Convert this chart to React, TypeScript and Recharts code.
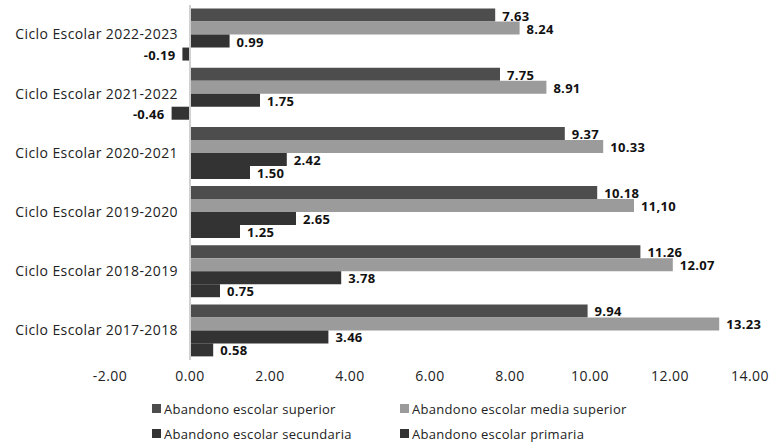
import React from 'react';
import { BarChart, Bar, XAxis, YAxis, Legend, ReferenceLine, LabelList } from 'recharts';

const cycles = [
  'Ciclo Escolar 2022-2023',
  'Ciclo Escolar 2021-2022',
  'Ciclo Escolar 2020-2021',
  'Ciclo Escolar 2019-2020',
  'Ciclo Escolar 2018-2019',
  'Ciclo Escolar 2017-2018',
];
const superior = [7.63, 7.75, 9.37, 10.18, 11.26, 9.94];
const mediaSuperior = [8.24, 8.91, 10.33, 11.1, 12.07, 13.23];
const secundaria = [0.99, 1.75, 2.42, 2.65, 3.78, 3.46];
const primaria = [-0.19, -0.46, 1.5, 1.25, 0.75, 0.58];
// the source prints this one value with a comma
const mediaSuperiorText = ['8.24', '8.91', '10.33', '11,10', '12.07', '13.23'];
const xTicks = [-2, 0, 2, 4, 6, 8, 10, 12, 14];

const data = cycles.map((name, i) => ({
  name,
  superior: superior[i],
  media: mediaSuperior[i],
  secundaria: secundaria[i],
  primaria: primaria[i],
}));

const series = [
  { key: 'superior', name: 'Abandono escolar superior', color: '#4d4d4d' },
  { key: 'media', name: 'Abandono escolar media superior', color: '#9b9b9b' },
  { key: 'secundaria', name: 'Abandono escolar secundaria', color: '#333333' },
  { key: 'primaria', name: 'Abandono escolar primaria', color: '#333333' },
];

const FONT = '"Open Sans", sans-serif';

const ValueLabel = (props: any) => {
  const { x, y, width, height, value, textFor, index } = props;
  const left = Math.min(x, x + width);
  const right = Math.max(x, x + width);
  const text = textFor ? textFor[index] : Number(value).toFixed(2);
  const neg = value < 0;
  return (
    <text
      x={neg ? left - 7 : right + 7}
      y={y + height / 2 + 2}
      textAnchor={neg ? 'end' : 'start'}
      dominantBaseline="middle"
      fontFamily={FONT}
      fontWeight={700}
      fontSize={13}
      letterSpacing={0.3}
      fill="#111"
    >
      {text}
    </text>
  );
};

// category labels sit next to the zero line, not at the plot's left edge
const CycleTick = (props: any) => {
  const { x, y, payload } = props;
  return (
    <text
      x={x + 76}
      y={y + 1}
      textAnchor="end"
      dominantBaseline="middle"
      fontFamily={FONT}
      fontSize={14}
      letterSpacing={0.4}
      fill="#222"
    >
      {payload.value}
    </text>
  );
};

const LegendBox = () => (
  <div
    style={{
      display: 'grid',
      gridTemplateColumns: '248px auto',
      rowGap: 6,
      paddingTop: 9,
      paddingLeft: 152,
      fontFamily: FONT,
      fontSize: 13,
      letterSpacing: 0.3,
      color: '#222',
    }}
  >
    {series.map((s) => (
      <div key={s.key} style={{ display: 'flex', alignItems: 'center', height: 19 }}>
        <span style={{ width: 9, height: 9, background: s.color, marginRight: 3, display: 'inline-block' }} />
        {s.name}
      </div>
    ))}
  </div>
);

export default function App() {
  return (
    <div style={{ position: 'absolute', left: 0, top: 0, background: '#fff' }}>
      <BarChart
        width={772}
        height={444}
        data={data}
        layout="vertical"
        margin={{ top: 5, right: 22, bottom: 6, left: 0 }}
        barCategoryGap="6%"
        barGap={0}
      >
        <XAxis
          type="number"
          domain={[-2, 14]}
          ticks={xTicks}
          axisLine={false}
          tickLine={false}
          tickMargin={5}
          height={30}
          tickFormatter={(v: number) => v.toFixed(2)}
          tick={{ fontFamily: FONT, fontSize: 14, fill: '#222', letterSpacing: 0.5 }}
          interval={0}
        />
        <YAxis type="category" dataKey="name" width={110} axisLine={false} tickLine={false} tick={<CycleTick />} />
        <ReferenceLine x={0} stroke="#d0d0d0" strokeWidth={2} />
        {series.map((s) => (
          <Bar key={s.key} dataKey={s.key} name={s.name} fill={s.color} isAnimationActive={false}>
            <LabelList
              dataKey={s.key}
              content={(p: any) => <ValueLabel {...p} textFor={s.key === 'media' ? mediaSuperiorText : null} />}
            />
          </Bar>
        ))}
        <Legend verticalAlign="bottom" height={48} content={<LegendBox />} />
      </BarChart>
    </div>
  );
}
